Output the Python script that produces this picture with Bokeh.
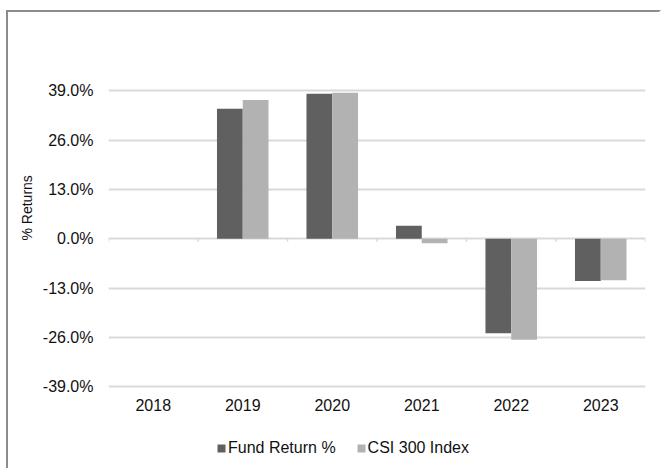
import math
from bokeh.plotting import figure
from bokeh.models import (ColumnDataSource, FactorRange, Range1d, FixedTicker,
                          PrintfTickFormatter, Legend, LegendItem, Title)
from bokeh.transform import dodge
from bokeh.embed import file_html
from bokeh.resources import INLINE

years = ["2018", "2019", "2020", "2021", "2022", "2023"]
fund_return = [math.nan, 34.3, 38.2, 3.4, -24.9, -11.1]
csi300 = [math.nan, 36.6, 38.5, -1.2, -26.6, -10.9]
y_ticks = [-39, -26, -13, 0, 13, 26, 39]
series_names = ["Fund Return %", "CSI 300 Index"]
y_label = "% Returns"

FONT = "Liberation Sans"
TXT = "#111111"

src = ColumnDataSource(dict(year=years, fund=fund_return, csi=csi300))

p = figure(width=655, height=458, x_range=FactorRange(*years),
           y_range=Range1d(-59.5, 52), output_backend="svg",
           toolbar_location=None, min_border_left=100, min_border_right=18,
           min_border_top=29, min_border_bottom=6)
p.styles = {"border-left": "2px solid #8c8c8c", "border-top": "2px solid #8c8c8c",
            "border-right": "2px solid #ffffff",
            "margin-left": "6px", "margin-top": "10px", "outline": "none"}
p.outline_line_color = None
p.background_fill_color = "white"
p.border_fill_color = "white"

bw = 0.288
r1 = p.vbar(x=dodge("year", -bw / 2, range=p.x_range), top="fund", bottom=0,
            width=bw, source=src, fill_color="#606060", line_color=None)
r2 = p.vbar(x=dodge("year", bw / 2, range=p.x_range), top="csi", bottom=0,
            width=bw, source=src, fill_color="#b2b2b2", line_color=None)

# category boundary tick marks on the zero line
bounds = [(y, -0.5) for y in years] + [(years[-1], 0.5)]
bsrc = ColumnDataSource(dict(x=bounds, y0=[0] * len(bounds), y1=[-0.8] * len(bounds)))
p.segment(x0="x", x1="x", y0="y0", y1="y1", source=bsrc, line_color="#d9d9d9", line_width=1.5)

p.xgrid.visible = False
p.ygrid.ticker = FixedTicker(ticks=y_ticks)
p.ygrid.grid_line_color = "#d9d9d9"
p.ygrid.grid_line_width = 2

p.yaxis.ticker = FixedTicker(ticks=y_ticks)
p.yaxis.formatter = PrintfTickFormatter(format="%.1f%%")
p.xaxis.fixed_location = y_ticks[0]

for ax in (p.xaxis[0], p.yaxis[0]):
    ax.axis_line_color = None
    ax.major_tick_line_color = None
    ax.minor_tick_line_color = None
    ax.major_tick_out = 0
    ax.major_tick_in = 0
    ax.major_label_text_font = FONT
    ax.major_label_text_font_size = "16px"
    ax.major_label_text_color = TXT
p.yaxis.major_label_standoff = 15
p.xaxis.major_label_standoff = 12

p.add_layout(Title(text=y_label, align="left", offset=224, standoff=9,
                   text_font=FONT, text_font_size="14px", text_font_style="normal",
                   text_color=TXT), "left")

legend = Legend(items=[LegendItem(label=series_names[0], renderers=[r1]),
                       LegendItem(label=series_names[1], renderers=[r2])],
                orientation="horizontal", location=(108, 7),
                glyph_width=10, glyph_height=10, label_standoff=2, spacing=20,
                padding=0, margin=0, border_line_color=None,
                background_fill_alpha=0,
                label_text_font=FONT, label_text_font_size="16px",
                label_text_color=TXT)
p.add_layout(legend, "center")

open("out.html", "w").write(file_html(p, INLINE))
